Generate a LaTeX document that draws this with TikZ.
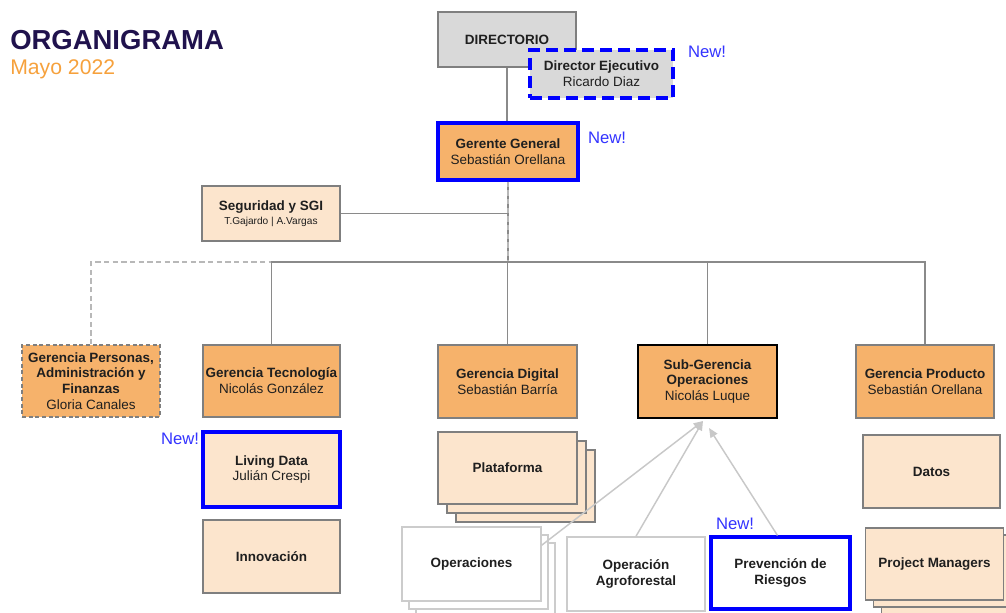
\documentclass[tikz,border=0pt]{standalone}
\usepackage{fontspec}
\setmainfont{Liberation Sans}
\usetikzlibrary{arrows.meta,calc}
\definecolor{navy}{HTML}{20124D}
\definecolor{ttlorange}{HTML}{F6A13C}
\definecolor{orfill}{HTML}{F6B26B}
\definecolor{peach}{HTML}{FCE5CD}
\definecolor{grayfill}{HTML}{D9D9D9}
\definecolor{bordergray}{HTML}{7F7F7F}
\definecolor{lightborder}{HTML}{CCCCCC}
\definecolor{conngray}{HTML}{8A8A8A}
\definecolor{arrgray}{HTML}{C8C8C8}
\definecolor{newblue}{HTML}{3333FF}
\definecolor{txt}{HTML}{1F1F1F}
\tikzset{
  sz/.style 2 args={minimum width=#1*0.75pt, minimum height=#2*0.75pt},
  box/.style={draw=bordergray, line width=1.1pt, inner sep=0pt, align=center,
    text=txt, font=\fontsize{10.1}{11.9}\selectfont},
  orbox/.style={box, fill=orfill},
  pbox/.style={box, fill=peach},
  gbox/.style={box, fill=grayfill},
  wbox/.style={box, fill=white, draw=lightborder},
  bluebox/.style={draw=blue, line width=2.3pt},
  newlbl/.style={text=newblue, font=\fontsize{12.5}{14}\selectfont, inner sep=0pt},
  conn/.style={draw=conngray, line width=1.1pt},
  dconn/.style={draw=lightborder!90!black, line width=1.1pt, dash pattern=on 4pt off 2.5pt},
  arr/.style={draw=arrgray, line width=1.1pt, -{Triangle[length=7pt,width=6pt]}},
}
\begin{document}
\begin{tikzpicture}[x=0.75pt,y=-0.75pt]
\useasboundingbox (0,0) rectangle (1006,612);

% title
\node[anchor=west, inner sep=0pt, text=navy, font=\bfseries\fontsize{20.6}{24}\selectfont] (title) at (10,40) {ORGANIGRAMA};
\node[anchor=west, inner sep=0pt, text=ttlorange, font=\fontsize{15.9}{18}\selectfont] (sub) at (10,69.5) {Mayo 2022};

\coordinate (bus) at (0,262);

% top
\node[gbox, sz={138}{55}] (dir) at (507,39.5) {\textbf{DIRECTORIO}};
\node[orbox, bluebox, sz={140}{57}] (gg) at (508,151.5) {\textbf{Gerente General}\\Sebastián Orellana};
\draw[conn] (dir.south) -- (dir.south |- gg.north);
\node[gbox, sz={143}{48}, draw=blue, line width=2.3pt, dash pattern=on 9pt off 4.5pt] (dex) at (601.5,74) {\textbf{Director Ejecutivo}\\Ricardo Diaz};
\node[newlbl] (new1) at (707,52) {New!};
\node[newlbl] (new2) at (607,138) {New!};

\node[pbox, sz={138}{55}] (seg) at (271,213.5) {\textbf{Seguridad y SGI}\\[-1.5pt]{\fontsize{7.6}{9}\selectfont T.Gajardo | A.Vargas}};

% level 2
\node[orbox, sz={138}{72}, dash pattern=on 3pt off 2pt] (per) at (91,381) {\textbf{Gerencia Personas,}\\\textbf{Administración y}\\\textbf{Finanzas}\\Gloria Canales};
\node[orbox, sz={137}{72}] (tec) at (271.5,381) {\textbf{Gerencia Tecnología}\\Nicolás González};
\node[orbox, sz={139}{73}] (dig) at (507.5,381.5) {\textbf{Gerencia Digital}\\Sebastián Barría};
\node[orbox, sz={139}{73}, draw=black] (sgo) at (707.5,381.5) {\textbf{Sub-Gerencia}\\\textbf{Operaciones}\\Nicolás Luque};
\node[orbox, sz={138}{73}] (pro) at (925,381.5) {\textbf{Gerencia Producto}\\Sebastián Orellana};

% connectors
\draw[dconn] (per.north) -- (per.north |- bus) -- (gg.south |- bus);
\draw[conn] (gg.south) -- (gg.south |- bus);
\draw[dconn] (gg.south) -- (gg.south |- bus);
\draw[conn] (seg.east) -- (seg.east -| gg.south);
\draw[conn] (tec.north) -- (tec.north |- bus) -- (pro.north |- bus) -- (pro.north);
\draw[conn] (dig.north) -- (dig.north |- bus);
\draw[conn] (sgo.north) -- (sgo.north |- bus);

% tecnologia children
\node[pbox, bluebox, sz={137}{75}] (liv) at (271.5,469.5) {\textbf{Living Data}\\Julián Crespi};
\node[newlbl] (new3) at (180,439) {New!};
\node[pbox, sz={137}{73}] (inn) at (271.5,556.5) {\textbf{Innovación}};

% plataforma stack
\node[pbox, sz={139}{72}] (pl3) at (525.5,486) {};
\node[pbox, sz={139}{72}] (pl2) at (516.5,477) {};
\node[pbox, sz={139}{72}] (pl) at (507.5,468) {\textbf{Plataforma}};

% operaciones stack
\node[wbox, sz={139}{74}] (ops3) at (485.5,580) {};
\node[wbox, sz={139}{74}] (ops2) at (478.5,572) {};
\node[wbox, sz={139}{74}] (ops) at (471.5,564) {\textbf{Operaciones}};

\node[wbox, sz={138}{74}] (agro) at (636,574) {\textbf{Operación}\\\textbf{Agroforestal}};
\node[wbox, bluebox, sz={139}{72}] (prev) at (780.5,573) {\textbf{Prevención de}\\\textbf{Riesgos}};
\node[newlbl] (new4) at (735,524) {New!};

% producto children
\node[pbox, sz={137}{73}] (dat) at (931.5,471.5) {\textbf{Datos}};
\node[pbox, sz={138}{72}] (pm3) at (950.5,578) {};
\node[pbox, sz={138}{72}] (pm2) at (942.5,571) {};
\node[pbox, sz={138}{72}] (pm) at (934.5,564) {\textbf{Project Managers}};

% arrows to sub-gerencia
\coordinate (tipA) at (703,421);
\coordinate (tipB) at (709,428);
\draw[arr] (ops.15) -- (tipA);
\draw[arr] (agro.north) -- (tipA);
\draw[arr] ($(prev.north)+(-3,0)$) -- (tipB);
\end{tikzpicture}
\end{document}
